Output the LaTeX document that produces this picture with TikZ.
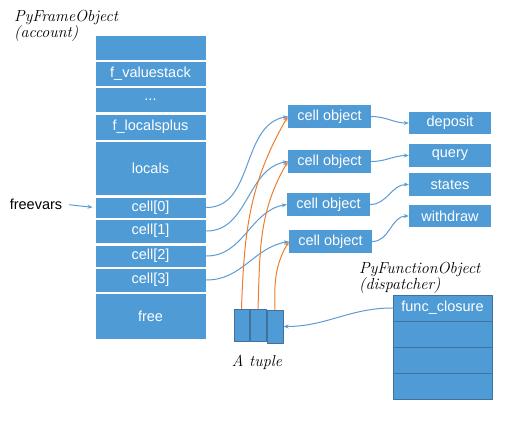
\documentclass[tikz,border=0pt]{standalone}
\usepackage{fontspec}
\setmainfont{Liberation Sans}
\newfontfamily\handfont{Latin Modern Roman}
\usetikzlibrary{arrows.meta}
\definecolor{boxblue}{RGB}{79,155,213}
\definecolor{edgeblue}{RGB}{65,113,156}
\definecolor{linkblue}{RGB}{91,155,213}
\definecolor{linkorange}{RGB}{237,125,49}
\tikzset{
	boxfont/.style={font=\fontsize{14.5}{16}\selectfont},
	slot/.style={boxfont, fill=boxblue, draw=white, line width=1pt, text=white, inner sep=0pt, minimum width=111pt},
	cellobj/.style={boxfont, fill=boxblue, text=white, inner sep=0pt, minimum width=83pt, minimum height=23pt},
	valbox/.style={boxfont, fill=boxblue, text=white, inner sep=0pt, minimum width=82pt, minimum height=22pt},
	tupslot/.style={fill=boxblue, draw=edgeblue, line width=1pt, inner sep=0pt, minimum width=15pt, minimum height=32pt},
	funcslot/.style={boxfont, fill=boxblue, draw=edgeblue, line width=1pt, text=white, inner sep=0pt, minimum width=99pt, minimum height=26pt},
	hand/.style={font=\handfont\itshape\fontsize{16}{15}\selectfont, align=left, inner sep=0pt},
	link/.style={draw=linkblue, line width=1pt, -{Stealth[length=5pt,width=4pt]}},
	tuplink/.style={draw=linkorange, line width=1pt, -{Stealth[length=5pt,width=4pt]}},
}
\begin{document}
\begin{tikzpicture}[x=1pt, y=-1pt, line join=round, line cap=round]
	\useasboundingbox (0,0) rectangle (521,423);
	% frame object
	\node[hand, anchor=north west] (framelbl) at (14,10) {PyFrameObject\\(account)};
	\foreach \name/\y/\h/\txt in {top/47.5/25/{}, vstack/73.5/25/{f\_valuestack}, dots/99.5/25/{...},
		lplus/127/26/{f\_localsplus}, locals/168/54/{locals}, cell0/207.5/21/{cell[0]},
		cell1/231/24/{cell[1]}, cell2/256/22/{cell[2]}, cell3/280/24/{cell[3]}, free/316/46/{free}}
		\node[slot, minimum height=\h pt] (\name) at (150.5,\y) {\txt};
	\node[boxfont, inner sep=0pt] (freevars) at (36,204) {freevars};
	\draw[link, shorten <=7pt, shorten >=2pt] (freevars.east) -- (cell0.west);

	% cell objects and values
	\node[cellobj] (co1) at (329.5,116.5) {cell object};
	\node[cellobj] (co2) at (329.5,161.5) {cell object};
	\node[cellobj] (co3) at (328.5,204.5) {cell object};
	\node[cellobj] (co4) at (330.5,241.5) {cell object};
	\node[valbox] (deposit) at (450,123) {deposit};
	\node[valbox, minimum height=23pt] (query) at (450,155.5) {query};
	\node[valbox, minimum height=23pt] (states) at (450,184.5) {states};
	\node[valbox] (withdraw) at (450,216) {withdraw};

	\draw[link] (cell0.east) to[out=0, in=190] (co1.west);
	\draw[link] (cell1.east) to[out=0, in=190] (co2.west);
	\draw[link] (cell2.east) to[out=0, in=190] (co3.west);
	\draw[link] (cell3.east) to[out=0, in=190] (co4.west);
	\draw[link] (co1.east) to[out=0, in=180] (deposit.west);
	\draw[link] (co2.east) to[out=0, in=180] (query.west);
	\draw[link] (co3.east) to[out=0, in=180] (states.west);
	\draw[link] (co4.east) to[out=0, in=180] (withdraw.west);

	% the tuple
	\node[tupslot] (t1) at (241.5,325) {};
	\node[tupslot, minimum width=16pt] (t2) at (258,325) {};
	\node[tupslot, minimum width=16pt, minimum height=33pt] (t3) at (275,326.5) {};
	\node[hand] (tuplbl) at (257,362) {A tuple};
	\draw[tuplink] (t1.north) to[out=88, in=240] (co1.west);
	\draw[tuplink] (t2.north) to[out=88, in=240] (co2.west);
	\draw[tuplink] (t3.north) to[out=92, in=240] (co4.west);

	% function object
	\node[hand, anchor=north west] (funclbl) at (359,262) {PyFunctionObject\\(dispatcher)};
	\node[funcslot] (fclos) at (442.5,308) {func\_closure};
	\node[funcslot] (f2) at (442.5,334) {};
	\node[funcslot] (f3) at (442.5,360) {};
	\node[funcslot] (f4) at (442.5,386) {};
	\draw[link] (fclos.west) to[out=180, in=0] (t3.east);
\end{tikzpicture}
\end{document}
